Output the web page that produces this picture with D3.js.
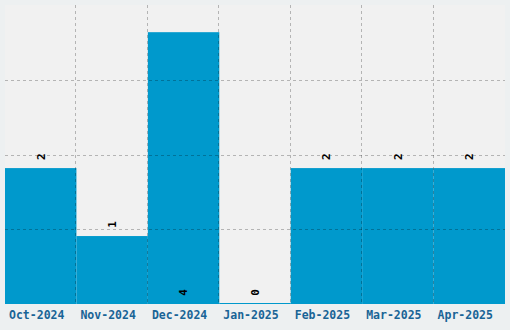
<!DOCTYPE html>
<html>
<head>
<meta charset="utf-8">
<script src="https://cdn.jsdelivr.net/npm/d3@7"></script>
<style>
  html, body { margin: 0; padding: 0; background: #edf0f1; }
  svg { display: block; }
</style>
</head>
<body>
<div id="chart"></div>
<script>
// Data
const months = ['Oct-2024', 'Nov-2024', 'Dec-2024', 'Jan-2025', 'Feb-2025', 'Mar-2025', 'Apr-2025'];
const counts = [2, 1, 4, 0, 2, 2, 2];

const width = 510;
const height = 330;
const margin = { top: 5, right: 5, bottom: 26, left: 5 };

const svg = d3.select('#chart')
  .append('svg')
  .attr('width', width)
  .attr('height', height);

// Scales
const x = d3.scaleBand()
  .domain(months)
  .range([margin.left, width - margin.right])
  .padding(0);

const y = d3.scaleLinear()
  .domain([0, d3.max(counts) * 1.1])
  .range([height - margin.bottom, margin.top]);

// Plot background
svg.append('rect')
  .attr('x', margin.left)
  .attr('y', margin.top)
  .attr('width', width - margin.left - margin.right)
  .attr('height', height - margin.top - margin.bottom)
  .attr('fill', '#f1f1f1');

const data = months.map((m, i) => ({ month: m, value: counts[i] }));

// Bars
svg.append('g')
  .selectAll('rect')
  .data(data)
  .enter()
  .append('rect')
  .attr('x', (d) => x(d.month))
  .attr('y', (d) => Math.min(y(d.value), y(0) - 1))
  .attr('width', x.bandwidth())
  .attr('height', (d) => Math.max(1, y(0) - y(d.value)))
  .attr('fill', '#0099cc');

// Grid lines, drawn over the bars
const grid = svg.append('g')
  .attr('stroke', '#000')
  .attr('stroke-opacity', 0.25)
  .attr('stroke-dasharray', '3,3')
  .attr('shape-rendering', 'crispEdges');

const yMax = y.domain()[1];
grid.selectAll('line.h')
  .data([1, 2, 3].map((i) => yMax * i / 4))
  .enter()
  .append('line')
  .attr('x1', margin.left)
  .attr('x2', width - margin.right)
  .attr('y1', (d) => Math.round(y(d)) + 0.5)
  .attr('y2', (d) => Math.round(y(d)) + 0.5);

grid.selectAll('line.v')
  .data(months.slice(1))
  .enter()
  .append('line')
  .attr('x1', (d) => Math.round(x(d)) - 0.5)
  .attr('x2', (d) => Math.round(x(d)) - 0.5)
  .attr('y1', margin.top)
  .attr('y2', height - margin.bottom);

// Value labels (the tallest bar gets its label at the base)
const maxVal = d3.max(counts);
svg.append('g')
  .selectAll('text')
  .data(data)
  .enter()
  .append('text')
  .attr('transform', (d) => {
    const cx = x(d.month) + x.bandwidth() / 2;
    const cy = (d.value === maxVal ? y(0) : y(d.value)) - 11.5;
    return `translate(${cx},${cy}) rotate(-90)`;
  })
  .attr('text-anchor', 'middle')
  .attr('dy', '0.35em')
  .attr('font-family', '"DejaVu Sans Mono", monospace')
  .attr('font-weight', 'bold')
  .attr('font-size', '11px')
  .attr('fill', '#000')
  .text((d) => d.value);

// X axis labels
svg.append('g')
  .selectAll('text')
  .data(months)
  .enter()
  .append('text')
  .attr('x', (d) => x(d) + x.bandwidth() / 2 - 4)
  .attr('y', 319)
  .attr('text-anchor', 'middle')
  .attr('font-family', '"DejaVu Sans Mono", monospace')
  .attr('font-weight', 'bold')
  .attr('font-size', '11.5px')
  .attr('fill', '#196496')
  .text((d) => d);
</script>
</body>
</html>
